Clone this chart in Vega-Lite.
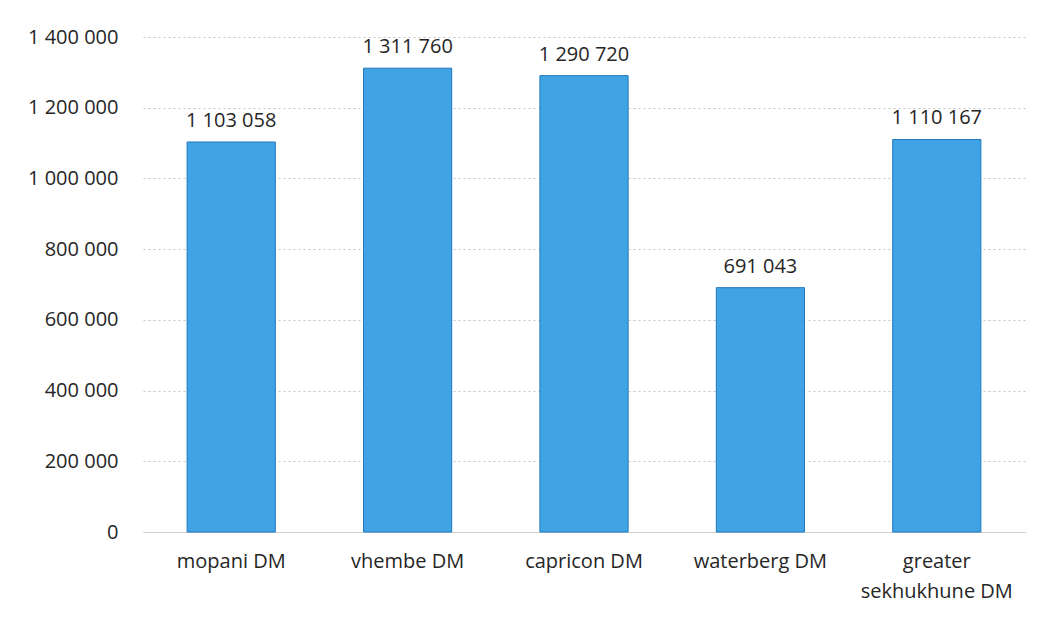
{
  "$schema": "https://vega.github.io/schema/vega-lite/v6.json",
  "autosize": "none",
  "width": 882,
  "height": 495,
  "padding": {"left": 143, "top": 37, "right": 23, "bottom": 89},
  "background": "#ffffff",
  "data": {
    "values": [
      {"district": "mopani DM", "population": 1103058},
      {"district": "vhembe DM", "population": 1311760},
      {"district": "capricon DM", "population": 1290720},
      {"district": "waterberg DM", "population": 691043},
      {"district": "greater sekhukhune DM", "population": 1110167}
    ]
  },
  "config": {
    "font": "Open Sans",
    "view": {"stroke": null}
  },
  "encoding": {
    "x": {
      "field": "district",
      "type": "nominal",
      "sort": null,
      "scale": {"paddingInner": 0.5, "paddingOuter": 0.25},
      "axis": {
        "title": null,
        "labelAngle": 0,
        "labelFontSize": 20,
        "labelColor": "#262626",
        "labelPadding": 19,
        "labelLineHeight": 30,
        "labelExpr": "datum.label == 'greater sekhukhune DM' ? ['greater', 'sekhukhune DM'] : datum.label",
        "ticks": false,
        "domainColor": "#cfcfcf",
        "domainWidth": 1
      }
    },
    "y": {
      "field": "population",
      "type": "quantitative",
      "scale": {"domain": [0, 1400000]},
      "axis": {
        "title": null,
        "values": [0, 200000, 400000, 600000, 800000, 1000000, 1200000, 1400000],
        "labelExpr": "replace(format(datum.value, ','), /,/g, ' ')",
        "labelFontSize": 20,
        "labelColor": "#262626",
        "labelPadding": 25,
        "ticks": false,
        "domain": false,
        "gridColor": "#c4c4c4",
        "gridDash": [2, 3],
        "gridWidth": 1
      }
    }
  },
  "layer": [
    {
      "mark": {"type": "bar", "color": "#3fa3e4", "stroke": "#2178bd", "strokeWidth": 1}
    },
    {
      "mark": {"type": "text", "baseline": "bottom", "dy": -11, "fontSize": 20, "color": "#262626"},
      "encoding": {
        "text": {"field": "label"}
      },
      "transform": [
        {"calculate": "replace(format(datum.population, ','), /,/g, ' ')", "as": "label"}
      ]
    }
  ]
}
